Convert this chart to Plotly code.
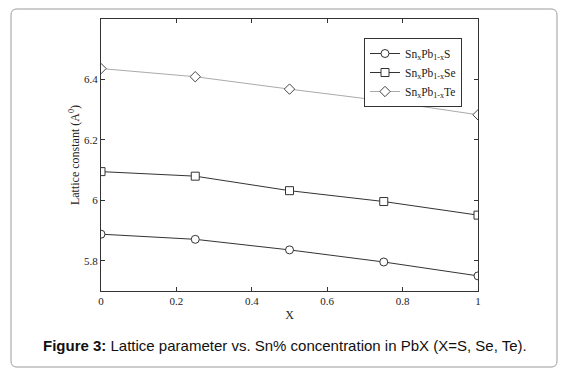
import plotly.graph_objects as go

x_vals = [0, 0.25, 0.5, 0.75, 1]
s_vals = [5.888, 5.871, 5.836, 5.796, 5.750]
se_vals = [6.095, 6.080, 6.032, 5.996, 5.951]
te_vals = [6.436, 6.409, 6.368, 6.329, 6.283]
names = ["Sn<sub>x</sub>Pb<sub>1-x</sub>S", "Sn<sub>x</sub>Pb<sub>1-x</sub>Se", "Sn<sub>x</sub>Pb<sub>1-x</sub>Te"]
x_ticks = [0, 0.2, 0.4, 0.6, 0.8, 1]
x_ticktext = ["0", "0.2", "0.4", "0.6", "0.8", "1"]
y_ticks = [5.8, 6.0, 6.2, 6.4]
y_ticktext = ["5.8", "6", "6.2", "6.4"]

W, H = 572, 375
L, R, T, B = 101, 478, 19, 291
pw, ph = R - L, B - T

def px(x):
    return (x - L) / pw

def py(y):
    return (B - y) / ph

serif = "Liberation Serif"
fig = go.Figure()
styles = [
    (s_vals, "circle", "#333333", "#333333"),
    (se_vals, "square", "#333333", "#333333"),
    (te_vals, "diamond", "#aaaaaa", "#444444"),
]
for (vals, sym, lc, mc), nm in zip(styles, names):
    fig.add_trace(go.Scatter(
        x=x_vals, y=vals, name=nm, mode="lines+markers",
        line=dict(color=lc, width=1),
        marker=dict(symbol=sym, size=8, color="white", line=dict(color=mc, width=1)),
    ))

# outer rounded box
x0, x1, y0, y1, r = 11, 557, 9, 367, 6
rx = r / pw
ry = r / ph
path = (f"M {px(x0)+rx},{py(y0)} L {px(x1)-rx},{py(y0)} Q {px(x1)},{py(y0)} {px(x1)},{py(y0)-ry} "
        f"L {px(x1)},{py(y1)+ry} Q {px(x1)},{py(y1)} {px(x1)-rx},{py(y1)} "
        f"L {px(x0)+rx},{py(y1)} Q {px(x0)},{py(y1)} {px(x0)},{py(y1)+ry} "
        f"L {px(x0)},{py(y0)-ry} Q {px(x0)},{py(y0)} {px(x0)+rx},{py(y0)} Z")
fig.add_shape(type="path", path=path, xref="paper", yref="paper",
              line=dict(color="#9a9a9a", width=1), layer="below")

fig.add_annotation(
    text="<b>Figure 3:</b> Lattice parameter vs. Sn% concentration in PbX (X=S, Se, Te).",
    x=px(285), y=py(345), xref="paper", yref="paper", showarrow=False,
    font=dict(family="Liberation Sans", size=15, color="#111111"),
    xanchor="center", yanchor="middle")

axis_common = dict(showline=True, linecolor="#333333", linewidth=1, mirror="ticks",
                   ticks="inside", ticklen=4, tickcolor="#333333", showgrid=False,
                   zeroline=False, tickfont=dict(family=serif, size=11, color="#222222"))
fig.update_xaxes(range=[0, 1], tickvals=x_ticks, ticktext=x_ticktext,
                 title=dict(text="X", font=dict(family=serif, size=12, color="#222222"), standoff=4),
                 **axis_common)
fig.update_yaxes(range=[5.7, 6.6], tickvals=y_ticks, ticktext=y_ticktext,
                 title=dict(text="Lattice constant (A<sup>0</sup>)", font=dict(family=serif, size=12, color="#222222"), standoff=1),
                 **axis_common)

fig.update_layout(
    width=W, height=H,
    margin=dict(l=L, r=W - R, t=T, b=H - B),
    paper_bgcolor="white", plot_bgcolor="white",
    showlegend=True,
    legend=dict(x=px(364), y=py(38), xanchor="left", yanchor="top",
                bordercolor="#333333", borderwidth=1, bgcolor="white",
                font=dict(family=serif, size=11.5, color="#222222"),
                tracegroupgap=0, itemwidth=30),
)
fig.write_html("out.html", config={"displayModeBar": False},
               post_script="document.body.style.margin='0px';")
